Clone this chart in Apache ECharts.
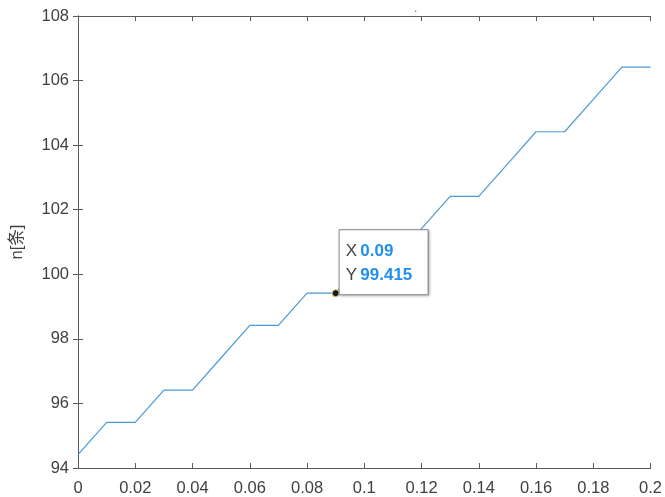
<!DOCTYPE html>
<html>
<head>
<meta charset="utf-8">
<script src="https://cdn.jsdelivr.net/npm/echarts@6/dist/echarts.min.js"></script>
<style>
  html, body { margin: 0; padding: 0; background: #fff; }
  #chart { width: 665px; height: 497px; }
</style>
</head>
<body>
<div id="chart"></div>
<script>
// Step-like growth of n over x
const xValues = [0, 0.01, 0.02, 0.03, 0.04, 0.05, 0.06, 0.07, 0.08, 0.09, 0.10,
                 0.11, 0.12, 0.13, 0.14, 0.15, 0.16, 0.17, 0.18, 0.19, 0.20];
const nValues = [94.415, 95.415, 95.415, 96.415, 96.415, 97.415, 98.415, 98.415,
                 99.415, 99.415, 100.415, 100.415, 101.415, 102.415, 102.415,
                 103.415, 104.415, 104.415, 105.415, 106.415, 106.415];
// Highlighted data tip
const tipX = 0.09;
const tipY = 99.415;

const axisColor = '#5a5a5a';
const textColor = '#404040';
const fontFamily = '"Liberation Sans", Arial, sans-serif';

const chart = echarts.init(document.getElementById('chart'));

const boxAxis = {
  axisLine: { show: true, lineStyle: { color: axisColor, width: 1 } },
  axisTick: { show: true, inside: true, length: 5, lineStyle: { color: axisColor } },
  splitLine: { show: false }
};

chart.setOption({
  animation: false,
  backgroundColor: '#ffffff',
  grid: { left: 78, right: 13, top: 16, bottom: 29, containLabel: false },
  graphic: [{
    type: 'text', left: 414, top: 3,
    style: { text: '.', fill: '#777', font: '12px ' + fontFamily }
  }],
  xAxis: [{
    type: 'value', min: 0, max: 0.2, interval: 0.02, position: 'bottom',
    ...boxAxis,
    axisLabel: {
      color: textColor, fontSize: 16.5, fontFamily, margin: 12,
      formatter: v => (Math.round(v * 100) / 100).toString()
    }
  }, {
    type: 'value', min: 0, max: 0.2, interval: 0.02, position: 'top',
    ...boxAxis,
    axisLabel: { show: false }
  }],
  yAxis: [{
    type: 'value', min: 94, max: 108, interval: 2, position: 'left',
    ...boxAxis,
    axisLabel: { color: textColor, fontSize: 16.5, fontFamily, margin: 9 },
    name: 'n[条]', nameLocation: 'middle', nameGap: 52, nameRotate: 90,
    nameTextStyle: { color: textColor, fontSize: 16.5, fontFamily: '"Liberation Sans", "Noto Sans CJK SC", sans-serif' }
  }, {
    type: 'value', min: 94, max: 108, interval: 2, position: 'right',
    ...boxAxis,
    axisLabel: { show: false }
  }],
  series: [{
    type: 'line',
    data: xValues.map((x, i) => [x, nValues[i]]),
    showSymbol: false,
    lineStyle: { color: '#4a9ad6', width: 1.2 },
    z: 2,
    markPoint: {
      symbol: 'circle',
      symbolSize: 7,
      itemStyle: { color: '#1a1a1a', borderColor: '#d8d27a', borderWidth: 1 },
      label: {
        show: true,
        position: [8, -59],
        backgroundColor: '#ffffff',
        borderColor: '#8c8c8c',
        borderWidth: 1,
        shadowColor: 'rgba(0,0,0,0.25)',
        shadowBlur: 3,
        shadowOffsetX: 1,
        shadowOffsetY: 1,
        padding: [9, 8, 7, 6],
        width: 74,
        lineHeight: 24,
        formatter: () => '{k|X} {v|' + tipX + '}\n{k|Y} {v|' + tipY + '}',
        rich: {
          k: { color: '#444', fontSize: 17, fontFamily },
          v: { color: '#1e90f0', fontSize: 17, fontWeight: 'bold', fontFamily }
        }
      },
      data: [{ coord: [tipX, tipY] }]
    }
  }]
});
</script>
</body>
</html>
